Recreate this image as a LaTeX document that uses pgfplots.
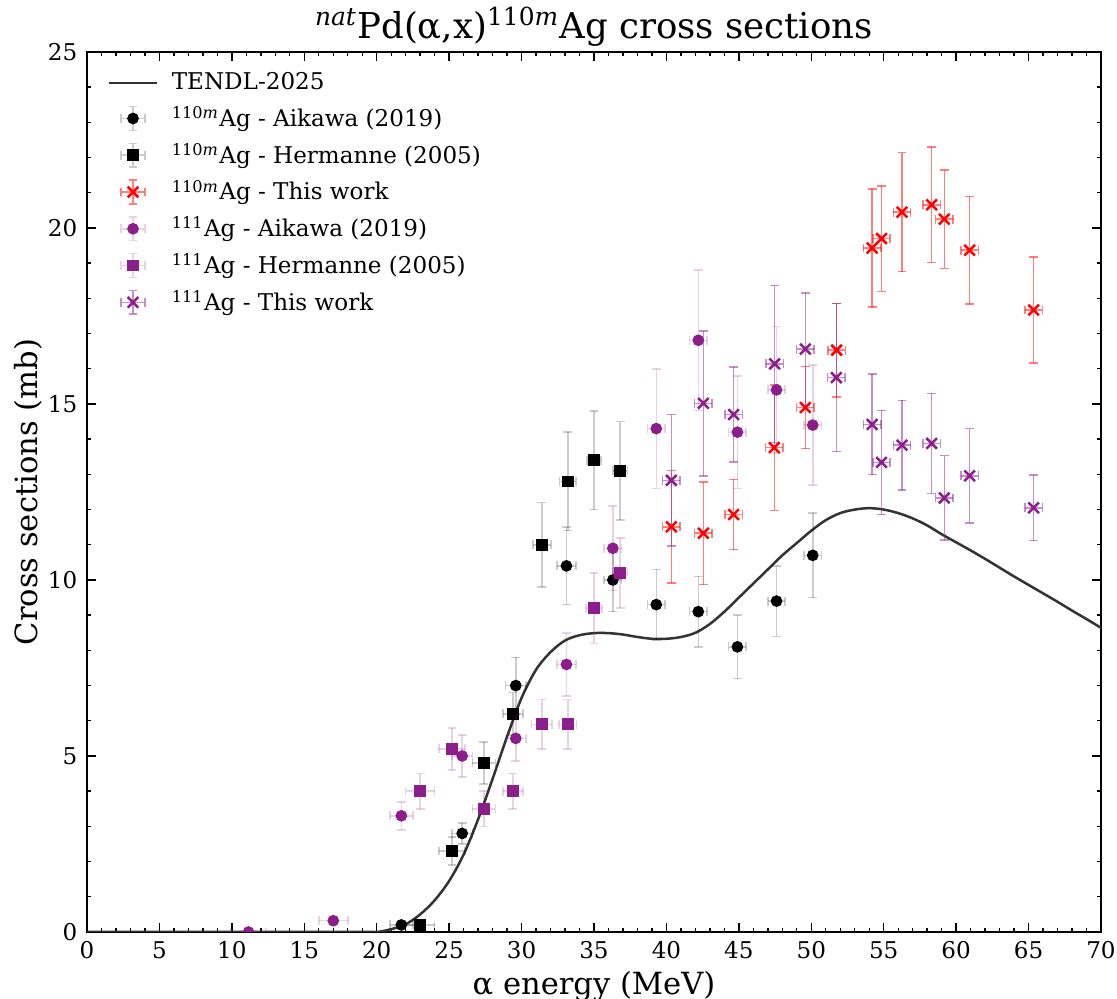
\documentclass[border=0pt]{standalone}
\usepackage{fontspec}
\setmainfont{DejaVu Serif}
\usepackage{pgfplots}
\pgfplotsset{compat=1.18}
\definecolor{mypurple}{RGB}{140,30,140}
\definecolor{tendl}{RGB}{51,51,51}
\pgfplotsset{
 errleg/.style={legend image code/.code={
   \draw[#1, line width=0.55pt] (0.15cm,0cm)--(0.45cm,0cm) (0.3cm,-0.15cm)--(0.3cm,0.15cm)
      (0.15cm,-0.055cm)--(0.15cm,0.055cm) (0.45cm,-0.055cm)--(0.45cm,0.055cm)
      (0.245cm,-0.15cm)--(0.355cm,-0.15cm) (0.245cm,0.15cm)--(0.355cm,0.15cm);
   \draw[mark repeat=2,mark phase=2,##1] plot coordinates {(0cm,0cm) (0.3cm,0cm) (0.6cm,0cm)};
 }},
 ebars/.style={error bars/.cd, x dir=both, x explicit, y dir=both, y explicit,
   error bar style={#1, line width=0.55pt},
   error mark options={#1, line width=0.55pt, mark size=1.6pt, rotate=90}},
}
\begin{document}
\begin{tikzpicture}
\begin{axis}[
 scale only axis, width=365.04pt, height=316.8pt,
 xmin=0, xmax=70, ymin=0, ymax=25,
 xtick={0,5,...,70}, ytick={0,5,...,25},
 minor x tick num=4, minor y tick num=4,
 tick align=inside, xtick pos=both, ytick pos=both,
 major tick length=3.2pt, minor tick length=1.6pt,
 every tick/.style={black, line width=0.5pt},
 axis line style={line width=0.8pt},
 tick label style={font=\fontsize{8.3}{10}\selectfont},
 /pgf/number format/assume math mode=true,
 label style={font=\fontsize{11}{13}\selectfont},
 xlabel={α energy (MeV)}, ylabel={Cross sections (mb)},
 xlabel style={at={(axis description cs:0.5,-0.0615)}, anchor=center},
 ylabel style={at={(axis description cs:-0.0582,0.5)}, anchor=center},
 clip marker paths=true,
 legend cell align=left,
 legend style={at={(axis description cs:0.012,0.99)}, anchor=north west, draw=none, fill=none,
   font=\fontsize{8.3}{10}\selectfont, row sep=0.6pt,
   /tikz/every odd column/.append style={column sep=3pt}},
]
\addplot[tendl, line width=0.9pt, smooth, tension=0.55] coordinates {
(0,0)(19,0)(20,0.0)(21,0.08)(22,0.22)(23,0.5)(24,0.9)(25,1.45)(26,2.2)(27,3.2)(28,4.35)(29,5.55)(30,6.65)(31,7.45)(32,7.95)(33,8.28)(34,8.43)(35,8.49)(36,8.49)(37,8.45)(38,8.38)(39,8.33)(40,8.33)(41,8.38)(42,8.5)(43,8.75)(44,9.1)(45,9.5)(46,9.9)(47,10.3)(48,10.7)(49,11.05)(50,11.4)(51,11.7)(52,11.9)(53,12.0)(54,12.04)(55,12.0)(56,11.9)(57,11.75)(58,11.55)(59,11.3)(60,11.07)(61,10.84)(62,10.6)(63,10.35)(64,10.1)(65,9.86)(66,9.62)(67,9.38)(68,9.13)(69,8.89)(70,8.64)};
\addlegendentry{TENDL-2025}

\addplot[only marks, mark=*, mark size=1.9pt, mark options={fill=black, draw=black}, errleg={black, opacity=0.2}, ebars={black, opacity=0.2}]
 table[x=x, y=y, x error=ex, y error=ey] {
x y ex ey
21.7 0.2 0.8 0.1
25.9 2.8 0.7 0.3
29.6 7.0 0.7 0.8
33.1 10.4 0.65 1.1
36.3 10.0 0.6 0.9
39.3 9.3 0.6 1.0
42.2 9.1 0.6 1.0
44.9 8.1 0.6 0.9
47.6 9.4 0.6 1.0
50.1 10.7 0.6 1.2
};
\addlegendentry{\textsuperscript{110\textit{m}}Ag - Aikawa (2019)}

\addplot[only marks, mark=square*, mark size=1.9pt, mark options={fill=black, draw=black}, errleg={black, opacity=0.2}, ebars={black, opacity=0.2}]
 table[x=x, y=y, x error=ex, y error=ey] {
x y ex ey
23.0 0.2 1.0 0.1
25.2 2.3 0.9 0.4
27.4 4.8 0.8 0.6
29.4 6.2 0.7 0.6
31.4 11.0 0.62 1.2
33.2 12.8 0.57 1.4
35.0 13.4 0.5 1.4
36.8 13.1 0.5 1.4
};
\addlegendentry{\textsuperscript{110\textit{m}}Ag - Hermanne (2005)}

\addplot[only marks, mark=x, mark size=2.7pt, mark options={draw=red, line width=0.9pt}, errleg={red, opacity=0.5}, ebars={red, opacity=0.5}]
 table[x=x, y=y, x error=ex, y error=ey] {
x y ex ey
40.34 11.51 0.6 1.6
42.55 11.33 0.6 1.46
44.64 11.86 0.6 1.0
47.45 13.76 0.6 1.78
49.59 14.90 0.6 1.17
51.75 16.53 0.6 1.33
54.20 19.43 0.6 1.67
54.85 19.70 0.6 1.5
56.26 20.45 0.6 1.69
58.31 20.66 0.6 1.64
59.18 20.25 0.6 1.4
60.93 19.37 0.6 1.53
65.35 17.67 0.6 1.5
};
\addlegendentry{\textsuperscript{110\textit{m}}Ag - This work}

\addplot[only marks, mark=*, mark size=1.9pt, mark options={fill=mypurple, draw=mypurple}, errleg={mypurple, opacity=0.2}, ebars={mypurple, opacity=0.2}]
 table[x=x, y=y, x error=ex, y error=ey] {
x y ex ey
11.15 0.0 1.2 0.05
17.0 0.32 1.0 0.1
21.7 3.3 0.8 0.4
25.9 5.0 0.7 0.6
29.6 5.5 0.7 0.65
33.1 7.6 0.65 0.9
36.3 10.9 0.6 1.2
39.3 14.3 0.6 1.7
42.2 16.81 0.6 2.0
44.9 14.2 0.6 1.6
47.6 15.4 0.6 1.8
50.1 14.4 0.6 1.7
};
\addlegendentry{\textsuperscript{111}Ag - Aikawa (2019)}

\addplot[only marks, mark=square*, mark size=1.9pt, mark options={fill=mypurple, draw=mypurple}, errleg={mypurple, opacity=0.2}, ebars={mypurple, opacity=0.2}]
 table[x=x, y=y, x error=ex, y error=ey] {
x y ex ey
23.0 4.0 1.0 0.5
25.2 5.2 0.9 0.6
27.4 3.5 0.8 0.5
29.4 4.0 0.7 0.5
31.4 5.9 0.7 0.7
33.2 5.9 0.6 0.7
35.0 9.2 0.55 1.0
36.8 10.2 0.5 1.0
};
\addlegendentry{\textsuperscript{111}Ag - Hermanne (2005)}

\addplot[only marks, mark=x, mark size=2.7pt, mark options={draw=mypurple, line width=0.9pt}, errleg={mypurple, opacity=0.5}, ebars={mypurple, opacity=0.5}]
 table[x=x, y=y, x error=ex, y error=ey] {
x y ex ey
40.34 12.83 0.6 1.87
42.55 15.02 0.6 2.06
44.64 14.70 0.6 1.35
47.47 16.14 0.6 2.23
49.59 16.56 0.6 1.6
51.73 15.75 0.6 2.1
54.2 14.42 0.6 1.43
54.85 13.34 0.6 1.48
56.26 13.83 0.6 1.27
58.31 13.88 0.6 1.42
59.18 12.33 0.6 1.2
60.93 12.96 0.6 1.34
65.35 12.05 0.6 0.93
};
\addlegendentry{\textsuperscript{111}Ag - This work}

\coordinate (bbsw) at (rel axis cs:-0.0858,-0.0761);
\coordinate (bbne) at (rel axis cs:1.0158,1.0591);
\coordinate (titlepos) at (rel axis cs:0.5,1.0);
\end{axis}
\node[font=\fontsize{12.8}{15}\selectfont, anchor=base, inner sep=0pt, yshift=5.0pt] at (titlepos) {\textsuperscript{\textit{nat}}Pd(α,x)\textsuperscript{110\textit{m}}Ag cross sections};
\pgfresetboundingbox
\path[use as bounding box] (bbsw) rectangle (bbne);
\end{tikzpicture}
\end{document}
